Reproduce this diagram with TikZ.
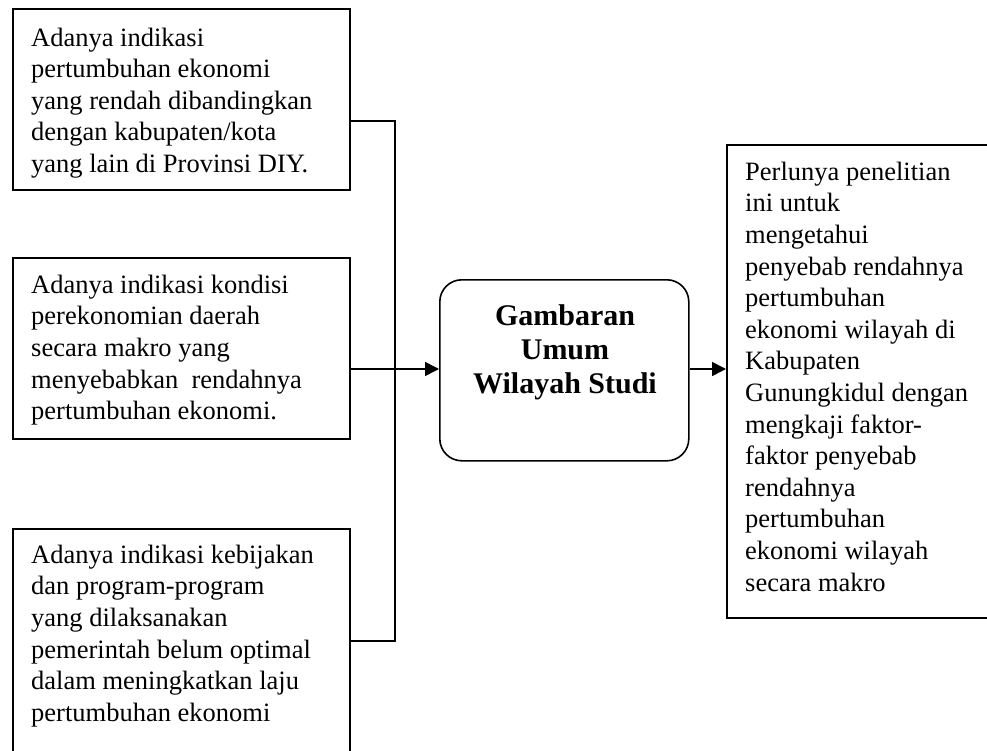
\documentclass[tikz,border=0pt]{standalone}
\usepackage{fontspec}
\setmainfont{Liberation Serif}
\usetikzlibrary{arrows.meta}
\begin{document}
\begin{tikzpicture}[x=1pt,y=-1pt,
  box/.style={draw, line width=1.6pt, inner sep=0pt, anchor=north west},
  rbox/.style={draw, line width=1.6pt, rounded corners=22pt, inner sep=0pt, anchor=north west},
  body/.style={anchor=north west, inner sep=0pt, align=left, font=\fontsize{26.5}{31.6}\selectfont},
  head/.style={anchor=north, inner sep=0pt, align=center, font=\fontsize{30}{34}\selectfont\bfseries},
  conn/.style={line width=1.6pt},
  arr/.style={line width=1.6pt, -{Triangle[length=14pt,width=14pt]}}]
\useasboundingbox (0,0) rectangle (987,751);
\clip (0,0) rectangle (987,751);
% boxes
\node[box, minimum width=337pt, minimum height=181pt] (b1) at (12,8) {};
\node[box, minimum width=337pt, minimum height=181pt] (b2) at (12,257) {};
\node[box, minimum width=337pt, minimum height=300pt] (b3) at (12,528) {};
\node[rbox, minimum width=249pt, minimum height=181pt] (c) at (439,279) {};
\node[box, minimum width=300pt, minimum height=473pt] (r) at (726,144) {};
% texts
\node[body] (t1) at (31,24) {\rule{0pt}{22pt}Adanya indikasi\\pertumbuhan ekonomi\\yang rendah dibandingkan\\dengan kabupaten/kota\\yang lain di Provinsi DIY.};
\node[body] (t2) at (31,271) {\rule{0pt}{22pt}Adanya indikasi kondisi\\perekonomian daerah\\secara makro yang\\menyebabkan\ \ rendahnya\\pertumbuhan ekonomi.};
\node[body] (t3) at (31,541) {\rule{0pt}{22pt}Adanya indikasi kebijakan\\dan program-program\\yang dilaksanakan\\pemerintah belum optimal\\dalam meningkatkan laju\\pertumbuhan ekonomi};
\node[head] (tc) at (565,301) {\rule{0pt}{24pt}Gambaran\\Umum\\Wilayah Studi};
\node[body] (tr) at (745,158) {\rule{0pt}{22pt}Perlunya penelitian\\ini untuk\\mengetahui\\penyebab rendahnya\\pertumbuhan\\ekonomi wilayah di\\Kabupaten\\Gunungkidul dengan\\mengkaji faktor-\\faktor penyebab\\rendahnya\\pertumbuhan\\ekonomi wilayah\\secara makro};
% connectors
\coordinate (j1) at (395,121);
\coordinate (j2) at (395,369);
\coordinate (j3) at (395,641);
\draw[conn] (b1.east |- j1) -- (j1) -- (j3) -- (b3.east |- j3);
\draw[arr] (b2.east |- j2) -- (c.west |- j2);
\draw[arr] (c.east |- j2) -- (r.west |- j2);
\end{tikzpicture}
\end{document}
